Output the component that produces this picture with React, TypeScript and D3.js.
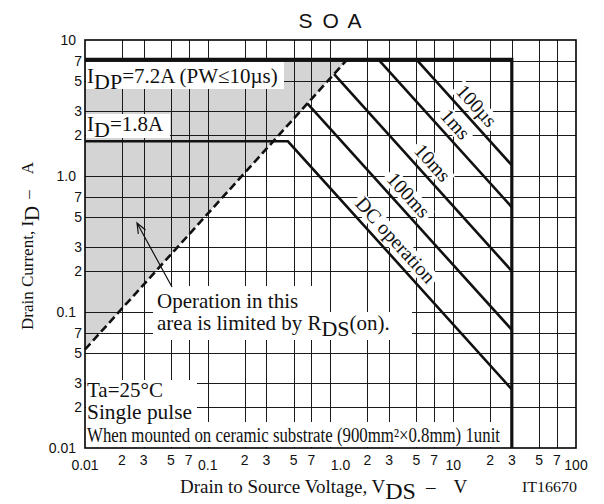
import React, { useEffect, useRef } from "react";
import * as d3 from "d3";

const WIDTH = 604;
const HEIGHT = 504;

// axis ticks (log grid: 1, 2, 3, 5, 7 per decade)
const xTicks = [0.01, 0.02, 0.03, 0.05, 0.07, 0.1, 0.2, 0.3, 0.5, 0.7, 1, 2, 3, 5, 7, 10, 20, 30, 50, 70, 100];
const xTickLabels = ["0.01", "2", "3", "5", "7", "0.1", "2", "3", "5", "7", "1.0", "2", "3", "5", "7", "10", "2", "3", "5", "7", "100"];
const yTicks = [0.01, 0.02, 0.03, 0.05, 0.07, 0.1, 0.2, 0.3, 0.5, 0.7, 1, 2, 3, 5, 7, 10];
const yTickLabels = ["0.01", "2", "3", "5", "7", "0.1", "2", "3", "5", "7", "1.0", "2", "3", "5", "7", "10"];
const majorTicks = [0.01, 0.1, 1, 10, 100];

// curves, points are [V_DS (V), I_D (A)]
const boundary = [[0.01, 7.2], [30, 7.2], [30, 0.01]];
const rdsLimit = [[0.01, 0.053], [1.37, 7.2]];
const dcOperation = [[0.01, 1.8], [0.45, 1.8], [30, 0.027]];
const pulse100ms = [[0.65, 3.4], [30, 0.074]];
const pulse10ms = [[1.07, 5.6], [30, 0.2]];
const pulse1ms = [[2.45, 7.2], [30, 0.59]];
const pulse100us = [[5.0, 7.2], [30, 1.2]];
const curveNames = ["100µs", "1ms", "10ms", "100ms", "DC operation"];

const SERIF = "'Liberation Serif', 'Times New Roman', serif";
const SANS = "'Liberation Sans', Arial, sans-serif";

const App = () => {
  const chartRef = useRef(null);

  useEffect(() => {
    const svg = d3.select(chartRef.current);
    svg.selectAll("*").remove();

    const left = 85, right = 576, top = 40, bottom = 448;
    const x = d3.scaleLog().domain([0.01, 100]).range([left, right]);
    const y = d3.scaleLog().domain([0.01, 10]).range([bottom, top]);
    const line = d3.line<number[]>().x((d) => x(d[0])).y((d) => y(d[1]));

    svg.append("rect").attr("width", WIDTH).attr("height", HEIGHT).attr("fill", "#fff");

    // area limited by RDS(on)
    svg
      .append("path")
      .datum([rdsLimit[0], [0.01, 7.2], rdsLimit[1]])
      .attr("d", (d) => line(d) + "Z")
      .attr("fill", "#d4d4d4");

    // grid
    const grid = svg.append("g").attr("stroke", "#1a1a1a").attr("stroke-width", 1);
    grid
      .selectAll("line.v")
      .data(xTicks.slice(1, -1))
      .join("line")
      .attr("class", "v")
      .attr("x1", (d) => Math.round(x(d)) + 0.5)
      .attr("x2", (d) => Math.round(x(d)) + 0.5)
      .attr("y1", top)
      .attr("y2", bottom);
    grid
      .selectAll("line.h")
      .data(yTicks.slice(1, -1))
      .join("line")
      .attr("class", "h")
      .attr("y1", (d) => Math.round(y(d)) + 0.5)
      .attr("y2", (d) => Math.round(y(d)) + 0.5)
      .attr("x1", left)
      .attr("x2", right);

    // white boxes behind the notes
    const boxes = [
      [86, 62, 198, 27],
      [86, 114, 84, 24],
      [153, 286, 167, 26],
      [153, 312, 259, 28],
      [86, 380, 111, 42],
      [86, 422, 416, 25],
    ];
    svg
      .append("g")
      .selectAll("rect")
      .data(boxes)
      .join("rect")
      .attr("x", (d) => d[0])
      .attr("y", (d) => d[1])
      .attr("width", (d) => d[2])
      .attr("height", (d) => d[3])
      .attr("fill", "#fff");

    // frame
    svg
      .append("rect")
      .attr("x", left)
      .attr("y", top)
      .attr("width", right - left)
      .attr("height", bottom - top)
      .attr("fill", "none")
      .attr("stroke", "#000")
      .attr("stroke-width", 1.6);

    // curves
    const curves = [pulse100us, pulse1ms, pulse10ms, pulse100ms, dcOperation];
    svg
      .append("g")
      .selectAll("path")
      .data(curves)
      .join("path")
      .attr("d", (d) => line(d))
      .attr("fill", "none")
      .attr("stroke", "#111")
      .attr("stroke-width", 2.6);

    svg
      .append("path")
      .datum(boundary)
      .attr("d", line)
      .attr("fill", "none")
      .attr("stroke", "#111")
      .attr("stroke-width", 3.2);

    svg
      .append("path")
      .datum(rdsLimit)
      .attr("d", line)
      .attr("fill", "none")
      .attr("stroke", "#111")
      .attr("stroke-width", 2.6)
      .attr("stroke-dasharray", "8 4");

    // curve labels, rotated along the lines
    const labelAt = [12.8, 8.6, 5.6, 3.57, 2.8];
    curves.forEach((pts, i) => {
      const a = pts[pts.length - 2];
      const b = pts[pts.length - 1];
      const ax = x(a[0]), ay = y(a[1]), bx = x(b[0]), by = y(b[1]);
      const t = (x(labelAt[i]) - ax) / (bx - ax);
      const px = ax + t * (bx - ax);
      const py = ay + t * (by - ay);
      const ang = Math.atan2(by - ay, bx - ax);
      const off = 13;
      const cx = px + off * Math.sin(ang);
      const cy = py - off * Math.cos(ang);
      const g = svg
        .append("g")
        .attr("transform", `translate(${cx},${cy}) rotate(${(ang * 180) / Math.PI})`);
      const bg = g.append("rect").attr("fill", "#fff");
      const txt = g
        .append("text")
        .attr("text-anchor", "middle")
        .attr("y", 6)
        .attr("font-family", SERIF)
        .attr("font-size", 20)
        .attr("fill", "#111")
        .text(curveNames[i]);
      const bb = (txt.node() as SVGTextElement).getBBox();
      bg.attr("x", bb.x - 3).attr("y", -9).attr("width", bb.width + 6).attr("height", 18);
    });

    // arrow
    const ax0 = 172, ay0 = 287, ax1 = 137, ay1 = 223;
    const dir = Math.atan2(ay1 - ay0, ax1 - ax0);
    const head = 11;
    svg
      .append("path")
      .attr(
        "d",
        `M${ax0},${ay0}L${ax1},${ay1}` +
          `M${ax1 - head * Math.cos(dir - 0.38)},${ay1 - head * Math.sin(dir - 0.38)}L${ax1},${ay1}` +
          `L${ax1 - head * Math.cos(dir + 0.38)},${ay1 - head * Math.sin(dir + 0.38)}`
      )
      .attr("fill", "none")
      .attr("stroke", "#111")
      .attr("stroke-width", 1.2);

    // tick labels
    const tickG = svg.append("g").attr("font-family", SANS).attr("font-size", 14).attr("fill", "#111");
    tickG
      .selectAll("text.x")
      .data(xTicks)
      .join("text")
      .attr("class", "x")
      .attr("text-anchor", "middle")
      .attr("x", (d) => x(d) + (d === 1 ? 10 : 0))
      .attr("y", (d) => (majorTicks.includes(d) ? 470 : 465))
      .text((d, i) => xTickLabels[i]);
    tickG
      .selectAll("text.y")
      .data(yTicks)
      .join("text")
      .attr("class", "y")
      .attr("text-anchor", "end")
      .attr("x", (d) => (majorTicks.includes(d) ? 76 : 82))
      .attr("y", (d) => y(d) + 5)
      .text((d, i) => yTickLabels[i]);

    // title
    svg
      .append("text")
      .attr("x", 331)
      .attr("y", 28)
      .attr("text-anchor", "middle")
      .attr("font-family", SANS)
      .attr("font-size", 21)
      .attr("letter-spacing", 2)
      .attr("fill", "#111")
      .text("S O A");

    // rich serif text with subscripts
    const rich = (parent, px, py, parts, size, subSize) => {
      const t = parent
        .append("text")
        .attr("x", px)
        .attr("y", py)
        .attr("font-family", SERIF)
        .attr("font-size", size)
        .attr("fill", "#111");
      let sub = false;
      parts.forEach((p) => {
        const span = t.append("tspan").text(p.t);
        if (p.dx) span.attr("dx", p.dx);
        if (p.sub && !sub) span.attr("dy", 6);
        if (!p.sub && sub) span.attr("dy", -6);
        if (p.sub) span.attr("font-size", subSize);
        sub = !!p.sub;
      });
      return t;
    };

    rich(svg, 87, 83, [{ t: "I" }, { t: "DP", sub: true }, { t: "=7.2A (PW≤10µs)" }], 21, 22);
    rich(svg, 87, 131, [{ t: "I" }, { t: "D", sub: true }, { t: "=1.8A" }], 21, 22);
    rich(svg, 157, 308, [{ t: "Operation in this" }], 21, 21);
    rich(svg, 157, 330, [{ t: "area is limited by R" }, { t: "DS", sub: true }, { t: "(on)." }], 21, 22);
    rich(svg, 87, 397, [{ t: "Ta=25°C" }], 21, 21);
    rich(svg, 87, 419, [{ t: "Single pulse" }], 21, 21)
      .attr("textLength", 105)
      .attr("lengthAdjust", "spacingAndGlyphs");
    rich(svg, 87, 442, [{ t: "When mounted on ceramic substrate (900mm²×0.8mm) 1unit" }], 20, 20)
      .attr("textLength", 413)
      .attr("lengthAdjust", "spacingAndGlyphs");

    // axis titles
    rich(
      svg,
      180,
      493,
      [{ t: "Drain to Source Voltage, V" }, { t: "DS", sub: true }, { t: "–", dx: 10 }, { t: "V", dx: 18 }],
      19,
      24
    );
    const yT = svg.append("g").attr("transform", "translate(33,330) rotate(-90)");
    rich(yT, 0, 0, [{ t: "Drain Current, I" }, { t: "D", sub: true }, { t: "–", dx: 7 }, { t: "A", dx: 16 }], 17, 21);

    svg
      .append("text")
      .attr("x", 522)
      .attr("y", 492)
      .attr("font-family", SERIF)
      .attr("font-size", 15)
      .attr("textLength", 55)
      .attr("lengthAdjust", "spacingAndGlyphs")
      .attr("fill", "#111")
      .text("IT16670");
  }, []);

  return (
    <svg
      ref={chartRef}
      width={WIDTH}
      height={HEIGHT}
      style={{ position: "absolute", left: 0, top: 0, background: "#fff" }}
    />
  );
};

export default App;
